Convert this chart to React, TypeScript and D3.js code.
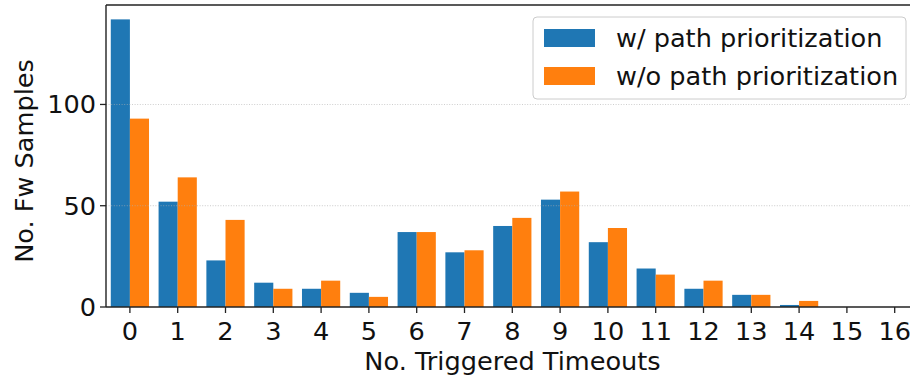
import React from "react";
import * as d3 from "d3";

const categories = [0, 1, 2, 3, 4, 5, 6, 7, 8, 9, 10, 11, 12, 13, 14, 15, 16];
const withPrio = [142, 52, 23, 12, 9, 7, 37, 27, 40, 53, 32, 19, 9, 6, 1, 0, 0];
const withoutPrio = [93, 64, 43, 9, 13, 5, 37, 28, 44, 57, 39, 16, 13, 6, 3, 0, 0];
const yTicks = [0, 50, 100];
const seriesNames = ["w/ path prioritization", "w/o path prioritization"];
const colors = ["#1f77b4", "#ff7f0e"];

const W = 910;
const H = 381;
const left = 106;
const top = 5;
const bottom = 307;
const font = "'DejaVu Sans', sans-serif";
const fs = 25.6;

export default function App() {
  const x = d3.scaleLinear().domain([-0.5, 16.5]).range([left, left + 17 * 47.8]);
  const y = d3.scaleLinear().domain([0, 149.1]).range([bottom, top]);
  const bw = x(0.4) - x(0);
  const series = [withPrio, withoutPrio];
  const right = x(16.5);

  return (
    <svg width={W} height={H} style={{ position: "absolute", left: 0, top: 0 }} fontFamily={font}>
      <rect x={0} y={0} width={W} height={H} fill="white" />
      {series.map((vals, si) =>
        vals.map((v, i) => (
          <rect
            key={`${si}-${i}`}
            x={x(categories[i]) + (si === 0 ? -bw : 0)}
            y={y(v)}
            width={bw}
            height={y(0) - y(v)}
            fill={colors[si]}
          />
        ))
      )}
      {yTicks.filter((t) => t > 0).map((t) => (
        <line key={t} x1={left} x2={right} y1={y(t)} y2={y(t)} stroke="#b0b0b0" strokeWidth={0.8} strokeDasharray="1,1.6" opacity={0.8} />
      ))}
      {/* spines */}
      <line x1={left} x2={left} y1={top} y2={bottom} stroke="#222" strokeWidth={1.4} />
      <line x1={left} x2={right} y1={bottom} y2={bottom} stroke="#222" strokeWidth={1.4} />
      <line x1={left} x2={right} y1={top} y2={top} stroke="#222" strokeWidth={1.4} />
      <line x1={right} x2={right} y1={top} y2={bottom} stroke="#222" strokeWidth={1.4} />
      {/* y ticks */}
      {yTicks.map((t) => (
        <g key={t}>
          <line x1={left - 6} x2={left} y1={y(t)} y2={y(t)} stroke="#222" strokeWidth={1.3} />
          <text x={left - 10} y={y(t)} textAnchor="end" dominantBaseline="central" fontSize={fs} fill="#111">
            {t}
          </text>
        </g>
      ))}
      {/* x ticks */}
      {categories.map((c) => (
        <g key={c}>
          <line x1={x(c)} x2={x(c)} y1={bottom} y2={bottom + 6} stroke="#222" strokeWidth={1.3} />
          <text x={x(c)} y={340} textAnchor="middle" fontSize={fs} fill="#111">
            {c}
          </text>
        </g>
      ))}
      <text x={512.5} y={370} textAnchor="middle" fontSize={fs} fill="#111">
        No. Triggered Timeouts
      </text>
      <text transform={`translate(33,161) rotate(-90)`} textAnchor="middle" fontSize={fs} fill="#111">
        No. Fw Samples
      </text>
      {/* legend */}
      <rect x={533} y={17} width={373} height={82} rx={4} fill="white" fillOpacity={0.8} stroke="#cccccc" strokeWidth={1} />
      {seriesNames.map((n, i) => (
        <g key={n}>
          <rect x={544} y={29 + i * 38} width={51} height={18} fill={colors[i]} />
          <text x={616} y={38 + i * 38} dominantBaseline="central" fontSize={fs} fill="#111">
            {n}
          </text>
        </g>
      ))}
    </svg>
  );
}
